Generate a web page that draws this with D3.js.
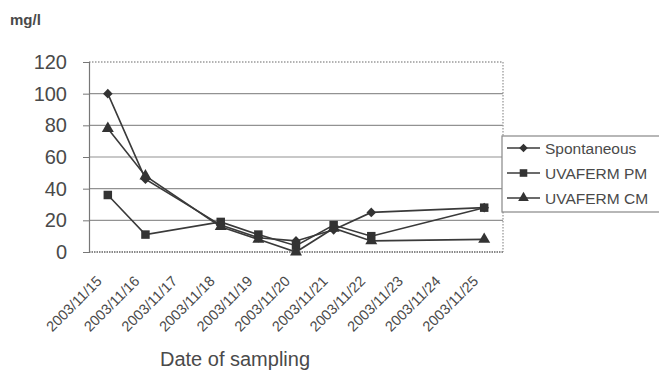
<!DOCTYPE html>
<html>
<head>
<meta charset="utf-8">
<script src="https://cdn.jsdelivr.net/npm/d3@7"></script>
<style>
  body { margin: 0; background: #fff; }
  svg { display: block; }
  text { font-family: Arial, "Liberation Sans", sans-serif; fill: #4a4a4a; }
</style>
</head>
<body>
<svg id="chart" width="659" height="376"></svg>
<script>
// ---- data ----
const dateLabels = ["2003/11/15","2003/11/16","2003/11/17","2003/11/18","2003/11/19","2003/11/20","2003/11/21","2003/11/22","2003/11/23","2003/11/24","2003/11/25"];
const sampleDates = ["2003/11/15","2003/11/16","2003/11/18","2003/11/19","2003/11/20","2003/11/21","2003/11/22","2003/11/25"];
const spontaneous = [100, 46, 17, 9, 7, 14, 25, 28];
const uvafermPM   = [36, 11, 19, 11, 4, 17, 10, 28];
const uvafermCM   = [78, 48, 16, 8, 0, 15, 7, 8];
const yTicks = [0, 20, 40, 60, 80, 100, 120];
const seriesNames = ["Spontaneous", "UVAFERM PM", "UVAFERM CM"];

const series = [
  { name: seriesNames[0], values: spontaneous, symbol: d3.symbolSquare, size: 46, rot: 45 },
  { name: seriesNames[1], values: uvafermPM,   symbol: d3.symbolSquare, size: 72, rot: 0 },
  { name: seriesNames[2], values: uvafermCM,   symbol: d3.symbolTriangle, size: 62, rot: 0 }
];

const svg = d3.select("#chart");
const pLeft = 89, pRight = 503, pTop = 62, pBottom = 252;

const x = d3.scaleBand().domain(dateLabels).range([pLeft, pRight]);
const y = d3.scaleLinear().domain([0, 120]).range([pBottom, pTop]);
const cx = d => x(d) + x.bandwidth() / 2;

// gridlines
svg.append("g").selectAll("line")
  .data(yTicks.filter(t => t > 0 && t < 120))
  .join("line")
  .attr("x1", pLeft).attr("x2", pRight)
  .attr("y1", d => y(d)).attr("y2", d => y(d))
  .attr("stroke", "#929292").attr("stroke-width", 1.2);

// plot border (dotted top/right)
svg.append("path")
  .attr("d", `M${pLeft},${y(120)}H${pRight}V${y(0)}`)
  .attr("fill", "none").attr("stroke", "#9a9a9a")
  .attr("stroke-width", 1.3).attr("stroke-dasharray", "1.5,1.5");
// bottom axis (dotted)
svg.append("line")
  .attr("x1", pLeft).attr("x2", pRight).attr("y1", y(0)).attr("y2", y(0))
  .attr("stroke", "#8a8a8a").attr("stroke-width", 2).attr("stroke-dasharray", "1.5,1");

// y axis
const yAxis = svg.append("g").attr("transform", `translate(${pLeft},0)`)
  .call(d3.axisLeft(y).tickValues(yTicks).tickSize(6).tickPadding(16));
yAxis.select(".domain").attr("stroke", "#777").attr("stroke-width", 1.2);
yAxis.selectAll(".tick line").attr("stroke", "#777");
yAxis.selectAll(".tick text")
  .attr("font-size", 20).attr("fill", "#505050")
  .attr("font-family", "Arial, 'Liberation Sans', sans-serif");

// x axis labels
const xAxis = svg.append("g").attr("transform", `translate(0,${pBottom})`)
  .call(d3.axisBottom(x).tickSize(0).tickPadding(0));
xAxis.select(".domain").remove();
xAxis.selectAll(".tick text")
  .attr("font-size", 14.5)
  .attr("font-family", "Arial, 'Liberation Sans', sans-serif")
  .attr("fill", "#505050")
  .attr("text-anchor", "end")
  .attr("dy", null)
  .attr("transform", "translate(-5,30) rotate(-45)");

// lines and markers
const line = d3.line().x((d, i) => cx(sampleDates[i])).y(d => y(d));
const g = svg.append("g");
series.forEach(s => {
  g.append("path").datum(s.values)
    .attr("d", line).attr("fill", "none")
    .attr("stroke", "#3a3a3a").attr("stroke-width", 1.6);
});
series.forEach(s => {
  g.append("g").selectAll("path").data(s.values).join("path")
    .attr("d", d3.symbol().type(s.symbol).size(s.size))
    .attr("transform", (d, i) => `translate(${cx(sampleDates[i])},${y(d)}) rotate(${s.rot})`)
    .attr("fill", "#333");
});

// legend
const lg = svg.append("g");
lg.append("rect").attr("x", 502).attr("y", 136).attr("width", 160).attr("height", 76)
  .attr("fill", "#fff").attr("stroke", "#888").attr("stroke-width", 1.2);
series.forEach((s, i) => {
  const yy = 148 + i * 25;
  lg.append("line").attr("x1", 507).attr("x2", 540).attr("y1", yy).attr("y2", yy)
    .attr("stroke", "#3a3a3a").attr("stroke-width", 1.6);
  lg.append("path").attr("d", d3.symbol().type(s.symbol).size(s.size * 0.8))
    .attr("transform", `translate(523.5,${yy}) rotate(${s.rot})`).attr("fill", "#333");
  lg.append("text").attr("x", 545).attr("y", yy).attr("dy", "0.36em")
    .attr("font-size", 15.5).text(s.name);
});

// axis titles
svg.append("text").attr("x", 10).attr("y", 25).attr("font-size", 15)
  .attr("font-weight", "bold").attr("fill", "#555").text("mg/l");
svg.append("text").attr("x", 235).attr("y", 366).attr("text-anchor", "middle")
  .attr("font-size", 20).attr("fill", "#444").text("Date of sampling");
</script>
</body>
</html>
